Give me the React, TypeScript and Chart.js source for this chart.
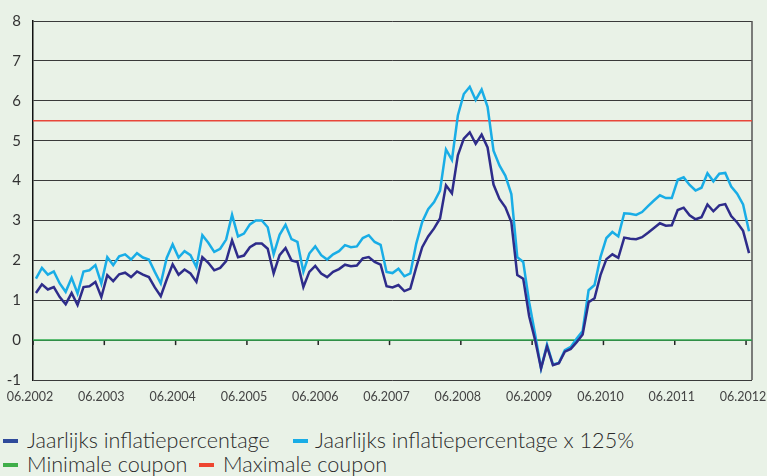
import React, { useEffect, useRef } from 'react';
import { Chart, registerables } from 'chart.js';

Chart.register(...registerables);

const tickLabels = ['06.2002', '06.2003', '06.2004', '06.2005', '06.2006', '06.2007', '06.2008', '06.2009', '06.2010', '06.2011', '06.2012'];

const inflation = [
  1.18, 1.40, 1.27, 1.33, 1.08, 0.90, 1.18, 0.88, 1.33, 1.35, 1.46, 1.08,
  1.63, 1.48, 1.65, 1.69, 1.58, 1.72, 1.64, 1.58, 1.32, 1.10, 1.52, 1.90,
  1.64, 1.77, 1.67, 1.46, 2.08, 1.94, 1.75, 1.81, 1.98, 2.50, 2.08, 2.12,
  2.33, 2.42, 2.42, 2.29, 1.67, 2.13, 2.31, 2.00, 1.96, 1.33, 1.71, 1.86,
  1.67, 1.58, 1.71, 1.78, 1.89, 1.85, 1.87, 2.05, 2.08, 1.96, 1.89, 1.35,
  1.32, 1.38, 1.23, 1.29, 1.83, 2.33, 2.60, 2.80, 3.05, 3.88, 3.68, 4.63,
  5.05, 5.21, 4.92, 5.15, 4.83, 3.90, 3.54, 3.33, 2.96, 1.63, 1.54, 0.60,
  0.00, -0.71, -0.16, -0.63, -0.58, -0.29, -0.22, -0.05, 0.14, 0.95, 1.05, 1.63,
  2.03, 2.15, 2.06, 2.57, 2.54, 2.53, 2.58, 2.69, 2.81, 2.93, 2.87, 2.88,
  3.26, 3.32, 3.13, 3.03, 3.08, 3.40, 3.23, 3.38, 3.41, 3.11, 2.95, 2.74, 2.18,
];

const inflation125 = [
  1.54, 1.81, 1.64, 1.72, 1.42, 1.21, 1.56, 1.17, 1.72, 1.75, 1.88, 1.42,
  2.08, 1.88, 2.10, 2.15, 2.02, 2.18, 2.07, 2.02, 1.71, 1.42, 2.06, 2.40,
  2.07, 2.23, 2.13, 1.83, 2.63, 2.44, 2.21, 2.29, 2.52, 3.14, 2.60, 2.67,
  2.90, 3.00, 3.00, 2.83, 2.15, 2.64, 2.89, 2.53, 2.46, 1.71, 2.17, 2.35,
  2.13, 2.02, 2.15, 2.23, 2.38, 2.33, 2.35, 2.56, 2.63, 2.46, 2.39, 1.71,
  1.68, 1.79, 1.60, 1.67, 2.42, 2.96, 3.28, 3.46, 3.75, 4.78, 4.52, 5.63,
  6.17, 6.35, 6.02, 6.28, 5.85, 4.75, 4.38, 4.12, 3.66, 2.08, 1.96, 0.95,
  0.15, -0.71, -0.11, -0.61, -0.57, -0.25, -0.17, 0.04, 0.23, 1.25, 1.38, 2.08,
  2.56, 2.71, 2.60, 3.18, 3.17, 3.14, 3.21, 3.36, 3.50, 3.63, 3.56, 3.56,
  4.02, 4.08, 3.89, 3.75, 3.82, 4.18, 3.98, 4.17, 4.19, 3.85, 3.67, 3.40, 2.73,
];

const MIN_COUPON = 0;
const MAX_COUPON = 5.5;

const seriesNames = ['Jaarlijks inflatiepercentage', 'Jaarlijks inflatiepercentage x 125%', 'Minimale coupon', 'Maximale coupon'];

const BG = '#e9f2e7';
const DARK = '#2e2c8a';
const LIGHT = '#19ade6';
const GREEN = '#2eab4c';
const RED = '#e8473a';
const LEGEND_COLORS = ['#2f4b9b', '#19ade6', '#3fae49', '#ee4630'];
const FONT = "Lato, 'Open Sans', 'DejaVu Sans', sans-serif";

export default function App() {
  const ref = useRef<HTMLCanvasElement>(null);

  useEffect(() => {
    document.body.style.margin = '0';
    document.body.style.background = BG;
    const toXY = (arr: number[]) => arr.map((v, i) => ({ x: i, y: v }));
    const lastIdx = inflation.length - 1;
    const framePlugin = {
      id: 'frame',
      beforeDatasetsDraw(chart: any) {
        const { ctx, chartArea, scales } = chart;
        const y0 = scales.y.getPixelForValue(0);
        ctx.save();
        ctx.strokeStyle = '#222';
        ctx.lineWidth = 1.5;
        scales.x.ticks.forEach((t: any) => {
          const x = scales.x.getPixelForValue(t.value);
          ctx.beginPath();
          ctx.moveTo(x, y0);
          ctx.lineTo(x, y0 + 5);
          ctx.stroke();
        });
        ctx.strokeStyle = '#555';
        ctx.lineWidth = 1.5;
        ctx.beginPath();
        ctx.moveTo(chartArea.right, chartArea.top);
        ctx.lineTo(chartArea.right, chartArea.bottom);
        ctx.stroke();
        ctx.restore();
      },
    };
    const chart = new Chart(ref.current as HTMLCanvasElement, {
      type: 'line',
      data: {
        datasets: [
          { label: seriesNames[0], data: toXY(inflation), borderColor: DARK, borderWidth: 2.5, order: 1 },
          { label: seriesNames[1], data: toXY(inflation125), borderColor: LIGHT, borderWidth: 2.5, order: 2 },
          { label: seriesNames[2], data: [{ x: -0.5, y: MIN_COUPON }, { x: lastIdx + 0.5, y: MIN_COUPON }], borderColor: GREEN, borderWidth: 1.5, order: 3 },
          { label: seriesNames[3], data: [{ x: -0.5, y: MAX_COUPON }, { x: lastIdx + 0.5, y: MAX_COUPON }], borderColor: RED, borderWidth: 1.5, order: 4 },
        ],
      },
      options: {
        responsive: false,
        animation: false,
        layout: { padding: { top: 20, right: 15, left: 0, bottom: 0 } },
        plugins: { legend: { display: false }, tooltip: { enabled: false } },
        elements: { point: { radius: 0 }, line: { tension: 0 } },
        scales: {
          x: {
            type: 'linear',
            min: -0.5,
            max: lastIdx + 0.5,
            afterBuildTicks: (s: any) => {
              s.ticks = tickLabels.map((_, k) => ({ value: 12 * k - 0.5 }));
            },
            afterFit: (s: any) => {
              s.height = 30;
              s.paddingLeft = 0;
              s.paddingRight = 0;
            },
            grid: { display: false, drawTicks: false },
            border: { display: false },
            ticks: {
              autoSkip: false,
              maxRotation: 0,
              padding: 9,
              labelOffset: -3,
              color: '#444',
              font: { family: FONT, size: 12.5 },
              callback: (_v: any, i: number) => tickLabels[i],
            },
          },
          y: {
            min: -1,
            max: 8,
            afterFit: (s: any) => {
              s.width = 33;
            },
            grid: { color: '#3a3a3a', lineWidth: 1, drawTicks: false },
            border: { color: '#111', width: 1.5 },
            ticks: { stepSize: 1, padding: 12, color: '#333', font: { family: FONT, size: 15 } },
          },
        },
      },
      plugins: [framePlugin],
    } as any);
    return () => chart.destroy();
  }, []);

  const legendItems = [
    { row: 0, marker: 3, text: 27 },
    { row: 0, marker: 293, text: 315 },
    { row: 1, marker: 3, text: 27 },
    { row: 1, marker: 199, text: 223 },
  ];

  return (
    <div style={{ position: 'relative', width: 767, height: 476, background: BG, overflow: 'hidden' }}>
      <canvas ref={ref} width={767} height={410} style={{ display: 'block', width: 767, height: 410 }} />
      {legendItems.map((it, i) => (
        <React.Fragment key={i}>
          <div
            style={{
              position: 'absolute',
              left: it.marker,
              top: 439 + it.row * 24,
              width: 15,
              height: 4,
              background: LEGEND_COLORS[i],
            }}
          />
          <div
            style={{
              position: 'absolute',
              left: it.text,
              top: 428 + it.row * 24,
              height: 24,
              lineHeight: '24px',
              fontFamily: FONT,
              fontWeight: 300,
              fontSize: 21.6,
              color: '#2b2b2b',
              whiteSpace: 'nowrap',
            }}
          >
            {seriesNames[i]}
          </div>
        </React.Fragment>
      ))}
    </div>
  );
}
